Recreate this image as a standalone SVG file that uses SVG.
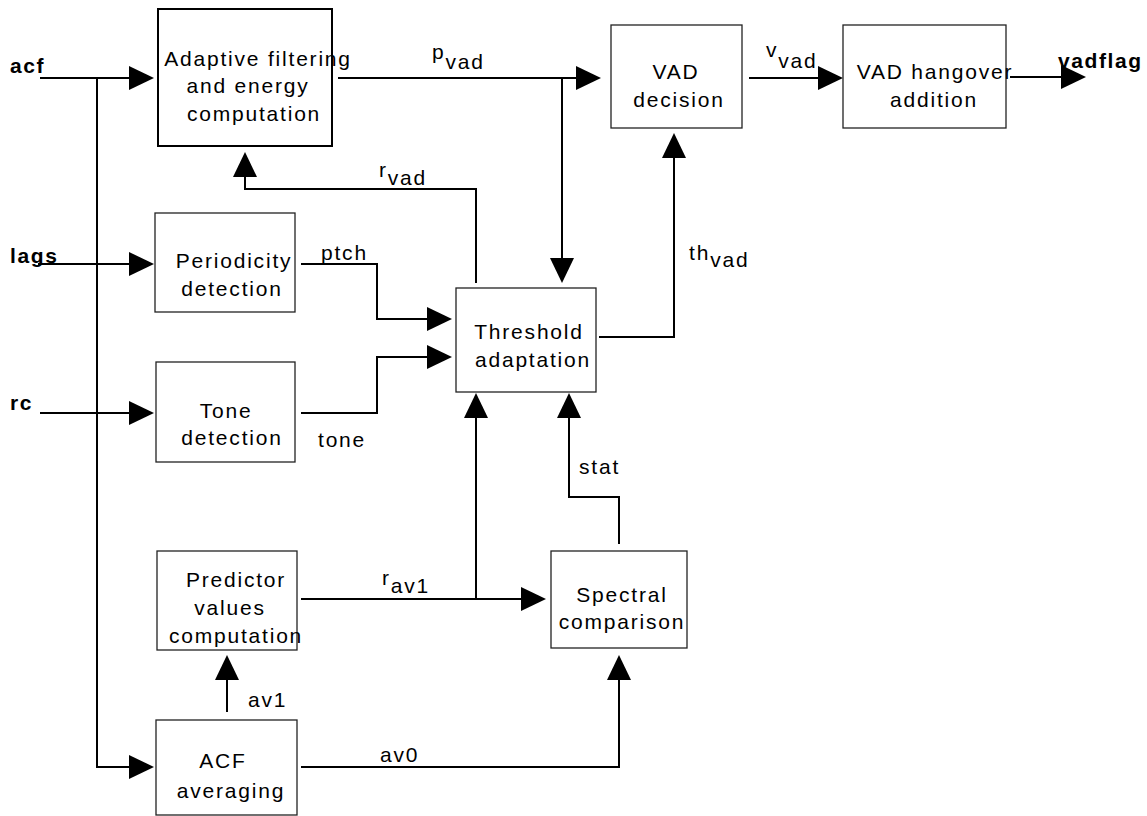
<svg xmlns="http://www.w3.org/2000/svg" width="1147" height="816" viewBox="0 0 1147 816">
<style>
  text { font-family: "Liberation Sans", Arial, sans-serif; font-size: 21px; letter-spacing: 1.8px; fill: #000; }
  .c { text-anchor: middle; }
  .b { font-weight: bold; letter-spacing: 1.6px; }
  .box { fill: #fff; stroke: #222; stroke-width: 1.3; }
  .boxk { fill: #fff; stroke: #000; stroke-width: 2; }
  .ar { fill: none; stroke: #000; stroke-width: 2; marker-end: url(#ah); }
</style>
<defs>
  <marker id="ah" markerUnits="userSpaceOnUse" markerWidth="26" markerHeight="26" refX="22" refY="12" orient="auto" overflow="visible">
    <path d="M0,0 L25,12 L0,24 Z" fill="#000"/>
  </marker>
</defs>
<rect width="1147" height="816" fill="#fff"/>

<g id="connectors">
  <path class="ar" d="M40,78 H151"/>
  <path class="ar" d="M97,78 V767 H151"/>
  <path class="ar" d="M38,264 H151"/>
  <path class="ar" d="M40,413 H151"/>
  <path class="ar" d="M338,78 H598"/>
  <path class="ar" d="M562,78 V280"/>
  <path class="ar" d="M476,283 V189 H245 V155"/>
  <path class="ar" d="M301,264 H377 V319 H449"/>
  <path class="ar" d="M301,413 H377 V357 H449"/>
  <path class="ar" d="M599,337 H674 V136"/>
  <path class="ar" d="M749,78 H840"/>
  <path class="ar" d="M1010,77 H1083"/>
  <path class="ar" d="M301,599 H543"/>
  <path class="ar" d="M476,599 V396"/>
  <path class="ar" d="M619,544 V497 H569 V396"/>
  <path class="ar" d="M301,767 H619 V658"/>
  <path class="ar" d="M227,712 V658"/>
</g>

<g id="labels">
  <text x="10" y="73" class="b">acf</text>
  <text x="10" y="263" class="b">lags</text>
  <text x="10" y="410" class="b">rc</text>
  <text x="1058" y="68" class="b">vadflag</text>
  <text x="432" y="59">p<tspan dy="10">vad</tspan></text>
  <text x="379" y="177">r<tspan dy="8">vad</tspan></text>
  <text x="766" y="57">v<tspan dy="11">vad</tspan></text>
  <text x="689" y="260">th<tspan dy="7">vad</tspan></text>
  <text x="382" y="585">r<tspan dy="8">av1</tspan></text>
  <text x="321" y="260">ptch</text>
  <text x="318" y="447">tone</text>
  <text x="579" y="474">stat</text>
  <text x="248" y="707">av1</text>
  <text x="380" y="762">av0</text>
</g>

<g id="adaptive">
  <rect class="boxk" x="158" y="9" width="174" height="137"/>
  <text class="c" x="258" y="66">Adaptive filtering</text>
  <text class="c" x="248" y="93">and energy</text>
  <text class="c" x="254" y="121">computation</text>
</g>
<g id="periodicity">
  <rect class="box" x="155" y="213" width="140" height="99"/>
  <text class="c" x="234" y="268">Periodicity</text>
  <text class="c" x="232" y="296">detection</text>
</g>
<g id="tone">
  <rect class="box" x="156" y="362" width="139" height="100"/>
  <text class="c" x="226" y="418">Tone</text>
  <text class="c" x="232" y="445">detection</text>
</g>
<g id="threshold">
  <rect class="box" x="456" y="288" width="140" height="104"/>
  <text class="c" x="529" y="339">Threshold</text>
  <text class="c" x="533" y="367">adaptation</text>
</g>
<g id="vad-decision">
  <rect class="box" x="611" y="25" width="131" height="103"/>
  <text class="c" x="676" y="79">VAD</text>
  <text class="c" x="679" y="107">decision</text>
</g>
<g id="vad-hangover">
  <rect class="box" x="843" y="25" width="163" height="103"/>
  <text class="c" x="935" y="79">VAD hangover</text>
  <text class="c" x="934" y="107">addition</text>
</g>
<g id="predictor">
  <rect class="box" x="157" y="551" width="140" height="99"/>
  <text class="c" x="236" y="587">Predictor</text>
  <text class="c" x="230" y="615">values</text>
  <text class="c" x="236" y="643">computation</text>
</g>
<g id="spectral">
  <rect class="box" x="551" y="551" width="136" height="97"/>
  <text class="c" x="622" y="602">Spectral</text>
  <text class="c" x="622" y="629">comparison</text>
</g>
<g id="acf-averaging">
  <rect class="box" x="156" y="720" width="141" height="95"/>
  <text class="c" x="223" y="768">ACF</text>
  <text class="c" x="231" y="798">averaging</text>
</g>
</svg>
